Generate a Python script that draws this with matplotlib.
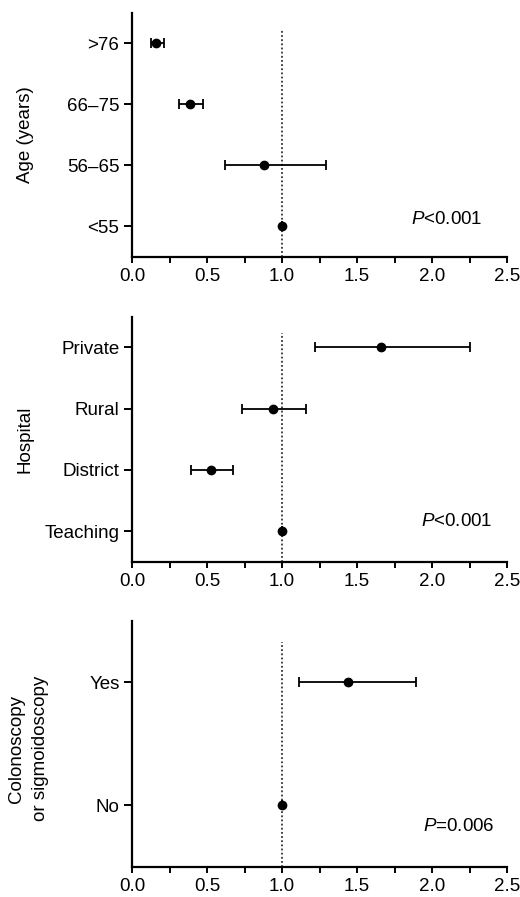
import numpy as np
import matplotlib
matplotlib.use("Agg")
import matplotlib.pyplot as plt
from matplotlib.ticker import MultipleLocator

plt.rcParams['font.family'] = ['Liberation Sans', 'DejaVu Sans']
plt.rcParams['mathtext.fontset'] = 'custom'
plt.rcParams['mathtext.it'] = 'Liberation Sans:italic'
plt.rcParams['mathtext.rm'] = 'Liberation Sans'

# panel 1: age
age_labels = ['<55', '56\u201365', '66\u201375', '>76']
age_or = [1.0, 0.88, 0.387, 0.16]
age_lo = [1.0, 0.62, 0.31, 0.125]
age_hi = [1.0, 1.29, 0.47, 0.21]

# panel 2: hospital
hosp_labels = ['Teaching', 'District', 'Rural', 'Private']
hosp_or = [1.0, 0.525, 0.94, 1.66]
hosp_lo = [1.0, 0.39, 0.73, 1.22]
hosp_hi = [1.0, 0.675, 1.16, 2.25]

# panel 3: colonoscopy
colo_labels = ['No', 'Yes']
colo_or = [1.0, 1.44]
colo_lo = [1.0, 1.11]
colo_hi = [1.0, 1.89]

panels = [
    ('Age (years)', age_labels, age_or, age_lo, age_hi, '$P$<0.001'),
    ('Hospital', hosp_labels, hosp_or, hosp_lo, hosp_hi, '$P$<0.001'),
    ('Colonoscopy\nor sigmoidoscopy', colo_labels, colo_or, colo_lo, colo_hi, '$P$=0.006'),
]

W, H = 520, 897
FS = 13.5
fig = plt.figure(figsize=(W / 100, H / 100), dpi=100)

# axes boxes in pixels: (top, bottom)
boxes = [(13, 257), (316.7, 561.7), (620.7, 866.7)]
ptext = [(0.745, 0.152), (0.77, 0.163), (0.777, 0.163)]
ylab_x = [-0.285, -0.285, -0.276]
ylab_y = [0.5, 0.5, 0.48]
dash_top = [3.22, 3.24, 1.33]
left, right = 132, 507

for i, (ylabel, labels, orr, lo, hi, ptxt) in enumerate(panels):
    top, bot = boxes[i]
    ax = fig.add_axes([left / W, 1 - bot / H, (right - left) / W, (bot - top) / H])
    n = len(labels)
    y = np.arange(n)
    orr = np.array(orr)
    xerr = np.array([orr - np.array(lo), np.array(hi) - orr])
    ax.errorbar(orr, y, xerr=xerr, fmt='o', color='black', ms=6,
                elinewidth=1.3, capsize=3.5, capthick=1.3, zorder=3)
    ax.plot([1, 1], [-0.5, dash_top[i]],
            linestyle=(0, (1, 1.3)), color='#333333', lw=1.3, zorder=2)
    ax.set_xlim(0, 2.5)
    ax.set_ylim(-0.5, n - 0.5)
    ax.set_yticks(y)
    ax.set_yticklabels(labels)
    ax.xaxis.set_major_locator(MultipleLocator(0.5))
    ax.xaxis.set_minor_locator(MultipleLocator(0.25))
    ax.xaxis.set_major_formatter(plt.FormatStrFormatter('%.1f'))
    for s in ['top', 'right']:
        ax.spines[s].set_visible(False)
    for s in ['left', 'bottom']:
        ax.spines[s].set_linewidth(1.6)
    ax.tick_params(axis='x', which='both', length=4, width=1.4, labelsize=FS, pad=4)
    ax.tick_params(axis='y', length=6, width=1.4, labelsize=FS, pad=3)
    ax.text(ylab_x[i], ylab_y[i], ylabel, transform=ax.transAxes, rotation=90,
            ha='center', va='center', fontsize=FS, multialignment='center',
            linespacing=1.6)
    ax.text(ptext[i][0], ptext[i][1], ptxt, transform=ax.transAxes,
            ha='left', va='center', fontsize=FS)

fig.savefig('out.png', dpi=100)
